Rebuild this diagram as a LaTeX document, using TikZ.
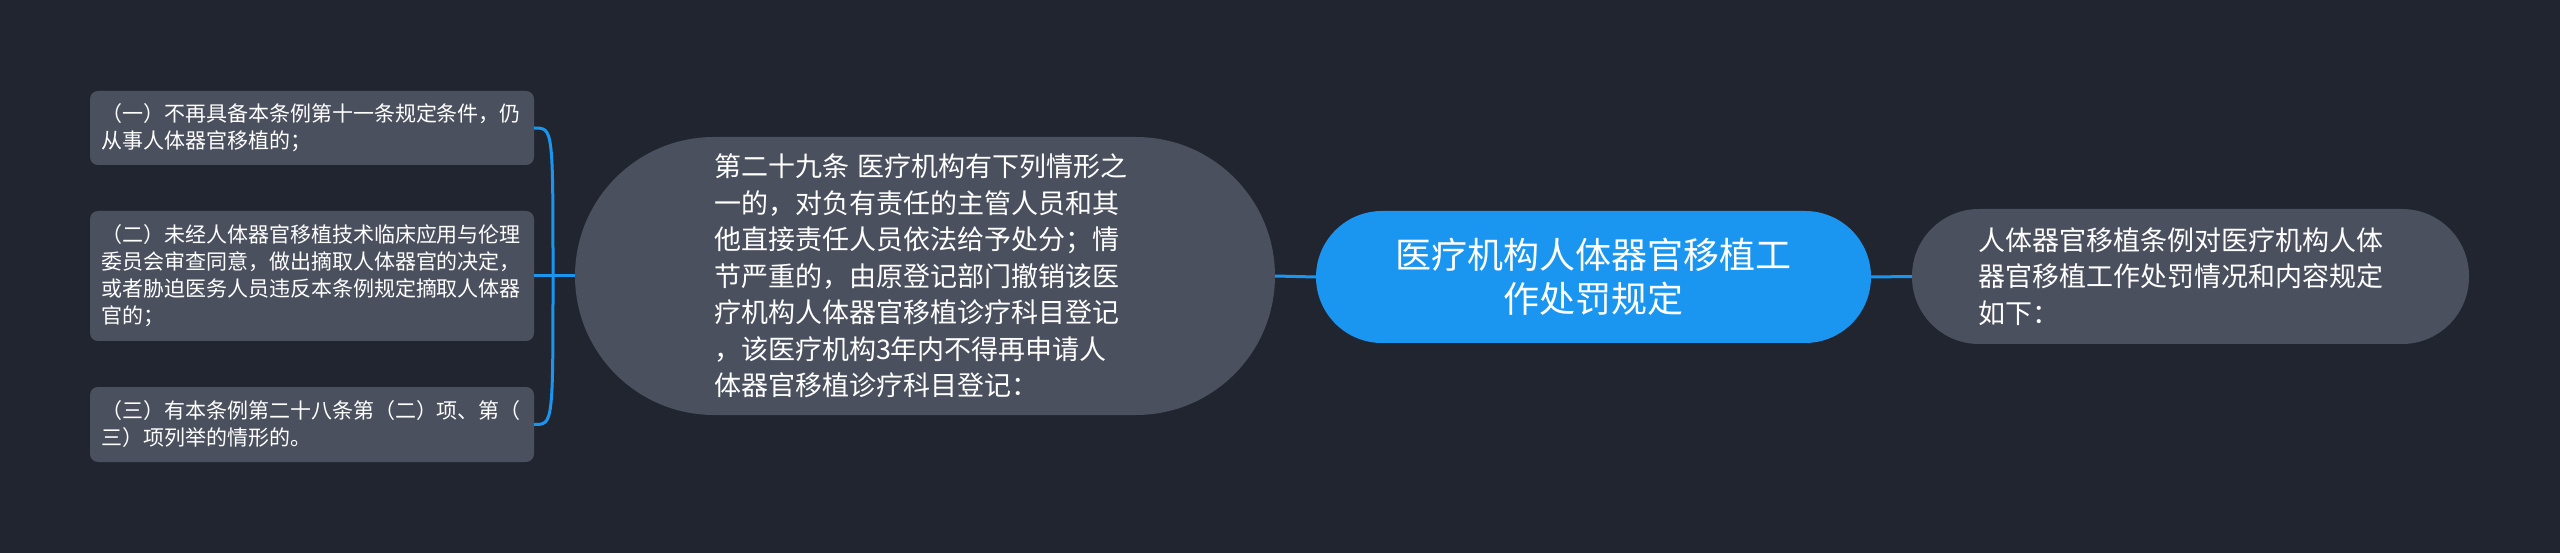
\documentclass[tikz,border=0pt]{standalone}
\usepackage{fontspec}
\setmainfont{Noto Sans CJK SC}
\definecolor{bgcol}{RGB}{33,37,48}
\definecolor{boxcol}{RGB}{74,80,94}
\definecolor{bluecol}{RGB}{26,150,240}
\tikzset{link/.style={draw=bluecol, line width=3pt}}
\tikzset{leafbox/.style={fill=boxcol, rounded corners=8pt, text=white, align=left, text width=422pt, inner xsep=11pt, minimum width=444pt, font=\fontsize{21}{27}\selectfont}}
\tikzset{bubble/.style={fill=boxcol, text=white, align=left, text width=422pt, font=\fontsize{27}{36.5}\selectfont}}

\begin{document}
\begin{tikzpicture}[x=1pt,y=-1pt]
\fill[bgcol] (0,0) rectangle (2560,553);

\node[leafbox, minimum height=74pt] (leaf1) at (312,128) {（一）不再具备本条例第十一条规定条件，仍\\从事人体器官移植的；};
\node[leafbox, minimum height=130pt] (leaf2) at (312,276) {（二）未经人体器官移植技术临床应用与伦理\\委员会审查同意，做出摘取人体器官的决定，\\或者胁迫医务人员违反本条例规定摘取人体器\\官的；};
\node[leafbox, minimum height=75pt] (leaf3) at (312,424.5) {（三）有本条例第二十八条第（二）项、第（\\三）项列举的情形的。};

\node[bubble, rounded corners=139pt, minimum width=700pt, minimum height=278pt] (article) at (925,276) {第二十九条 医疗机构有下列情形之\\一的，对负有责任的主管人员和其\\他直接责任人员依法给予处分；情\\节严重的，由原登记部门撤销该医\\疗机构人体器官移植诊疗科目登记\\，该医疗机构3年内不得再申请人\\体器官移植诊疗科目登记：};

\node[fill=bluecol, text=white, align=center, rounded corners=66pt, minimum width=555pt, minimum height=132pt, font=\fontsize{36}{44}\selectfont] (title) at (1593.5,277) {医疗机构人体器官移植工\\作处罚规定};

\node[bubble, text width=424pt, rounded corners=67pt, minimum width=557pt, minimum height=135pt] (intro) at (2190.5,276.5) {人体器官移植条例对医疗机构人体\\器官移植工作处罚情况和内容规定\\如下：};

\coordinate (junc) at (553,276);
\draw[link] (article.west) -- (junc);
\draw[link] (junc) -- (leaf2.east);
\draw[link] (junc) .. controls (junc |- leaf1.east) and (junc |- leaf1.east) .. (leaf1.east);
\draw[link] (junc) .. controls (junc |- leaf3.east) and (junc |- leaf3.east) .. (leaf3.east);
\draw[link] (article.east) -- (title.west);
\draw[link] (title.east) -- (intro.west);
\end{tikzpicture}
\end{document}
